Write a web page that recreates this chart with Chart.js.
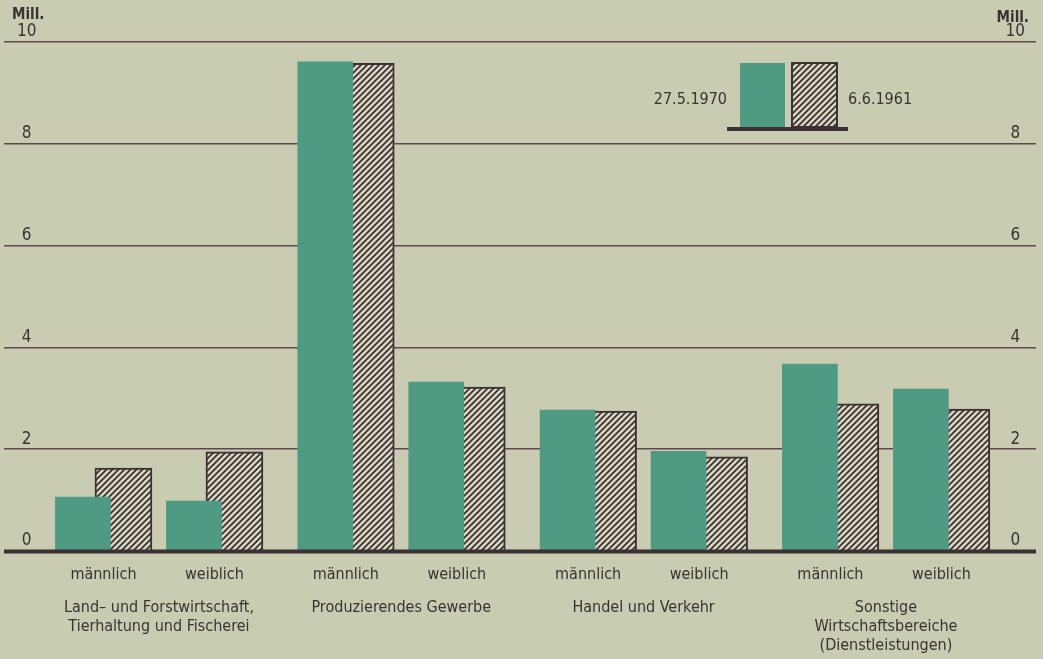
<!DOCTYPE html>
<html><head><meta charset="utf-8">
<script src="https://cdn.jsdelivr.net/npm/chart.js@4.4.0/dist/chart.umd.min.js"></script>
<style>html,body{margin:0;padding:0;background:#c9ccb1;overflow:hidden}#wrap{width:1043px;height:659px;position:relative}</style>
</head><body><div id="wrap"><canvas id="c" width="1043" height="659"></canvas></div>
<script>
// ---- data ----
const sexLabels = ['männlich','weiblich','männlich','weiblich','männlich','weiblich','männlich','weiblich'];
const groupLabels = [
  ['Land– und Forstwirtschaft,','Tierhaltung und Fischerei'],
  ['Produzierendes Gewerbe'],
  ['Handel und Verkehr'],
  ['Sonstige','Wirtschaftsbereiche','(Dienstleistungen)']
];
const values1970 = [1.06, 0.98, 9.61, 3.32, 2.77, 1.96, 3.67, 3.18];
const values1961 = [1.63, 1.95, 9.58, 3.22, 2.75, 1.85, 2.89, 2.79];
const yTickValues = [0, 2, 4, 6, 8, 10];
const seriesNames = ['27.5.1970', '6.6.1961'];
const unitLabel = 'Mill.';

// ---- style / layout ----
const BG = '#c9ccb1', GREEN = '#4f9a82', DARK = '#3b3033', GRID = '#62464f', TXT = '#3a3133';
const FONT = "'DejaVu Sans Condensed','Liberation Sans Narrow',sans-serif";
const NARROW = "'Liberation Sans Narrow','DejaVu Sans Condensed',sans-serif";
const GROUP_STEP = 2.183, OFF_A = -0.185, OFF_B = 0.18;
const pos = i => Math.floor(i / 2) * GROUP_STEP + (i % 2);
const gpos = g => g * GROUP_STEP + 0.5;
const XMIN = -0.896, XMAX = 8.401;

function hatch() {
  const t = document.createElement('canvas'); t.width = 6; t.height = 6;
  const c = t.getContext('2d');
  c.fillStyle = '#d8d7c2'; c.fillRect(0, 0, 6, 6);
  c.strokeStyle = '#3a2e30'; c.lineWidth = 1.7;
  c.beginPath();
  c.moveTo(-1, 7); c.lineTo(7, -1);
  c.moveTo(-4, 4); c.lineTo(4, -4);
  c.moveTo(2, 10); c.lineTo(10, 2);
  c.stroke();
  return document.getElementById('c').getContext('2d').createPattern(t, 'repeat');
}
const HATCH = hatch();

const zeroPad = s => { s.paddingLeft = 0; s.paddingRight = 0; s.paddingTop = 0; s.paddingBottom = 0; };

const decor = {
  id: 'decor',
  beforeDraw(chart) {
    const c = chart.ctx; c.save(); c.fillStyle = BG; c.fillRect(0, 0, chart.width, chart.height); c.restore();
  },
  afterDatasetsDraw(chart) {
    const c = chart.ctx, a = chart.chartArea, y0 = chart.scales.y.getPixelForValue(0);
    c.save();
    c.fillStyle = DARK; c.fillRect(a.left, y0 - 1.5, a.right - a.left, 4);
    c.restore();
  },
  afterDraw(chart) {
    const c = chart.ctx;
    c.save();
    c.fillStyle = TXT; c.font = "bold 15px " + NARROW; c.textBaseline = 'middle';
    c.textAlign = 'left'; c.fillText(unitLabel, 12, 15);
    c.textAlign = 'right'; c.fillText(unitLabel, 1029, 18);
    // legend
    const ds = chart.data.datasets;
    c.fillStyle = ds[0].backgroundColor; c.fillRect(740, 63, 45, 65);
    c.fillStyle = ds[1].backgroundColor; c.fillRect(791, 62, 47, 66);
    c.strokeStyle = DARK; c.lineWidth = 2; c.strokeRect(792, 63, 45, 64);
    c.fillStyle = DARK; c.fillRect(727, 127, 121, 4);
    c.fillStyle = TXT; c.font = "16px " + FONT;
    c.textAlign = 'right'; c.fillText(seriesNames[0], 727, 100);
    c.textAlign = 'left'; c.fillText(seriesNames[1], 848, 100);
    c.restore();
  }
};

const tickFont = { family: FONT, size: 16 };
const numFont = { family: NARROW, size: 17 };

new Chart(document.getElementById('c'), {
  type: 'bar',
  data: {
    datasets: [
      { label: seriesNames[0], data: values1970.map((v, i) => ({ x: pos(i) + OFF_A, y: v })),
        backgroundColor: GREEN, borderWidth: 0, barThickness: 55, grouped: false },
      { label: seriesNames[1], data: values1961.map((v, i) => ({ x: pos(i) + OFF_B, y: v })),
        backgroundColor: HATCH, borderColor: DARK, borderWidth: 2, borderSkipped: 'bottom', barThickness: 57, grouped: false }
    ]
  },
  options: {
    responsive: false, animation: false, devicePixelRatio: 1,
    layout: { padding: { top: 42, left: 4, right: 7, bottom: 0 } },
    plugins: { legend: { display: false }, tooltip: { enabled: false } },
    scales: {
      x: {
        type: 'linear', position: 'bottom', min: XMIN, max: XMAX, offset: false, bounds: 'data',
        grid: { display: false, drawTicks: false }, border: { display: false },
        afterBuildTicks: s => { s.ticks = sexLabels.map((_, i) => ({ value: pos(i) })); },
        afterFit: s => { s.height = 36; zeroPad(s); },
        ticks: { autoSkip: false, maxRotation: 0, minRotation: 0, padding: 14, color: TXT, font: tickFont,
          callback: (v, i) => sexLabels[i] }
      },
      x2: {
        type: 'linear', position: 'bottom', min: XMIN, max: XMAX, offset: false, bounds: 'data',
        grid: { display: false, drawTicks: false }, border: { display: false },
        afterBuildTicks: s => { s.ticks = groupLabels.map((_, g) => ({ value: gpos(g) })); },
        afterFit: s => { s.height = 72; zeroPad(s); },
        ticks: { autoSkip: false, maxRotation: 0, minRotation: 0, padding: 12, color: TXT,
          font: { family: FONT, size: 16, lineHeight: 1.16 },
          callback: (v, i) => groupLabels[i] }
      },
      y: {
        position: 'left', min: 0, max: 10, border: { display: false },
        afterBuildTicks: s => { s.ticks = yTickValues.map(v => ({ value: v })); },
        afterFit: s => { s.width = 0; zeroPad(s); },
        grid: { color: ctx => (ctx.tick && ctx.tick.value === 0) ? 'rgba(0,0,0,0)' : GRID, lineWidth: 1.6, drawTicks: false },
        ticks: { mirror: true, crossAlign: 'center', padding: 13, labelOffset: -10, color: TXT, font: numFont }
      },
      y2: {
        position: 'right', min: 0, max: 10, border: { display: false },
        afterBuildTicks: s => { s.ticks = yTickValues.map(v => ({ value: v })); },
        afterFit: s => { s.width = 0; zeroPad(s); },
        grid: { display: false, drawTicks: false },
        ticks: { mirror: true, crossAlign: 'center', padding: -11, labelOffset: -10, color: TXT, font: numFont }
      }
    }
  },
  plugins: [decor]
});
</script></body></html>
